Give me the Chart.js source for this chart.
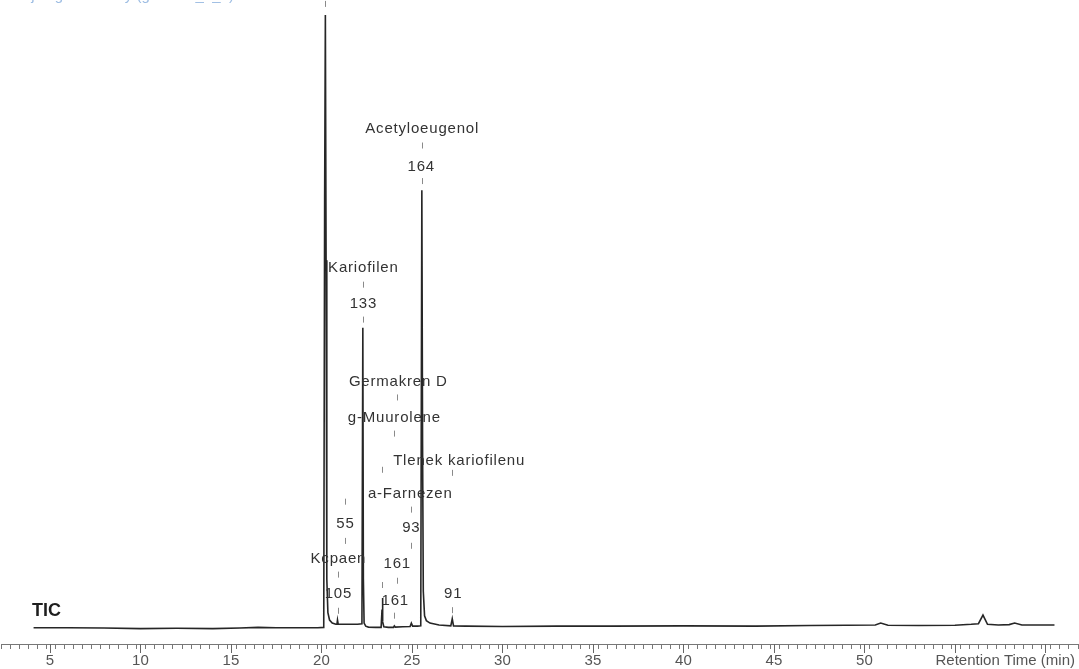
<!DOCTYPE html>
<html>
<head>
<meta charset="utf-8">
<script src="https://cdn.jsdelivr.net/npm/chart.js@4.4.1/dist/chart.umd.min.js"></script>
<style>
  body { margin: 0; background: #fff; }
  #wrap { width: 1079px; height: 669px; position: relative; }
</style>
</head>
<body>
<div id="wrap"><canvas id="tic"></canvas></div>
<script>
// Retention time (min) and TIC intensity (% of the biggest peak)
const retTime = [
  4.1, 6, 8, 10, 12, 14, 15.5, 16.5, 17.5, 19, 19.8, 20.13, 20.18, 20.22, 20.26, 20.3,
  20.36, 20.45, 20.6, 20.8, 20.86, 20.89, 20.93, 21.1, 21.5, 22.0, 22.24, 22.29,
  22.32, 22.36, 22.45, 22.6, 23.0, 23.3, 23.35, 23.37, 23.4, 23.45, 23.7, 23.98, 24.03,
  24.08, 24.5, 24.9, 24.97, 25.04, 25.3, 25.49, 25.55, 25.59, 25.63, 25.7, 25.8,
  26.0, 26.5, 27.15, 27.23, 27.3, 28, 30, 33, 36, 40, 44, 47, 49, 50.6, 50.9, 51.3, 53,
  55, 55.9, 56.3, 56.55, 56.8, 57.4, 58.0, 58.3, 58.7, 60.5
];
const ticIntensity = [
  0.05, 0.05, 0.0, -0.1, -0.05, -0.1, 0.0, 0.1, 0.05, 0.05, 0.05, 0.1, 70, 100, 60, 8,
  2.5, 1.3, 0.8, 0.6, 0.6, 1.3, 0.6, 0.6, 0.6, 0.6, 0.7, 49,
  8, 0.8, 0.3, 0.15, 0.1, 0.1, 3, 4.9, 1, 0.2, 0.1, 0.1, 0.35,
  0.15, 0.2, 0.25, 0.8, 0.3, 0.3, 0.35, 71.4, 30, 6, 2, 1.2,
  0.8, 0.5, 0.35, 1.5, 0.35, 0.3, 0.25, 0.3, 0.3, 0.35, 0.3, 0.4, 0.45, 0.5, 0.8, 0.45, 0.4,
  0.45, 0.6, 0.7, 2.1, 0.6, 0.5, 0.55, 0.8, 0.5, 0.5
];

// x axis
const xMin = 2.3;
const xMax = 61.8;
const majorTicks = [5, 10, 15, 20, 25, 30, 35, 40, 45, 50, 55, 60];
const tickLabels = ['5', '10', '15', '20', '25', '30', '35', '40', '45', '50'];
const axisTitle = 'Retention Time (min)';
const traceName = 'TIC';
const runTitle = 'Olejek gozdzikowy (gozdziki_2_1)';

// Peak labels: text, retention time, level (%)
const labelTexts = ['Acetyloeugenol', '164', 'Kariofilen', '133', 'Germakren D', 'g-Muurolene',
  'Tlenek kariofilenu', 'a-Farnezen', '55', '93', 'Kcpaen', '161', '105', '161', '91'];
const labelTimes = [25.57, 25.52, 22.32, 22.32, 24.25, 24.03, 27.61, 24.91, 21.33, 24.97,
  20.94, 24.19, 20.94, 24.08, 27.28];
const labelLevels = [81.4, 75.3, 58.8, 52.9, 40.2, 34.3, 27.3, 21.9, 17.0, 16.3, 11.3, 10.5,
  5.6, 4.4, 5.6];

// Short dashed markers: retention time and top level (%)
const markTimes = [20.22, 25.55, 25.55, 22.29, 22.29, 24.19, 24.19, 24.03, 24.03, 23.37, 23.37,
  27.23, 27.23, 21.33, 21.33, 24.97, 24.97, 20.94, 20.94];
const markLevels = [102.3, 79.2, 73.4, 56.5, 50.8, 38.1, 8.2, 32.2, 2.5, 26.3, 7.5,
  25.8, 3.4, 21.1, 14.7, 19.8, 13.9, 9.2, 3.3];

const points = retTime.map((t, i) => ({ x: t, y: ticIntensity[i] }));

/**
 * Draws tick numbers, labels, markers, major ticks and the extra texts
 */
const decorations = {
  id: 'decorations',
  afterDraw(chart) {
    const ctx = chart.ctx;
    const xs = chart.scales.x;
    const ys = chart.scales.y;
    const area = chart.chartArea;

    ctx.save();

    // longer major ticks
    ctx.strokeStyle = '#666';
    ctx.lineWidth = 1;
    majorTicks.forEach(v => {
      const px = Math.round(xs.getPixelForValue(v)) + 0.5;
      ctx.beginPath();
      ctx.moveTo(px, area.bottom);
      ctx.lineTo(px, area.bottom + 9);
      ctx.stroke();
    });

    // tick numbers
    ctx.fillStyle = '#555';
    ctx.font = '15px "Liberation Sans", Arial, sans-serif';
    ctx.textAlign = 'center';
    ctx.textBaseline = 'middle';
    tickLabels.forEach(lbl => {
      ctx.fillText(lbl, xs.getPixelForValue(Number(lbl)), area.bottom + 17);
    });

    // axis title, sits where the 55 and 60 labels would be
    ctx.textAlign = 'right';
    ctx.fillText(axisTitle, chart.width - 4, area.bottom + 17);

    // dashed markers
    ctx.strokeStyle = '#8a8a8a';
    markTimes.forEach((t, i) => {
      const px = Math.round(xs.getPixelForValue(t)) + 0.5;
      const py = ys.getPixelForValue(markLevels[i]);
      ctx.beginPath();
      ctx.moveTo(px, py);
      ctx.lineTo(px, py + 6);
      ctx.stroke();
    });

    // peak labels
    ctx.fillStyle = '#333';
    ctx.letterSpacing = '0.8px';
    ctx.textAlign = 'center';
    labelTexts.forEach((txt, i) => {
      ctx.fillText(txt, xs.getPixelForValue(labelTimes[i]), ys.getPixelForValue(labelLevels[i]));
    });
    ctx.letterSpacing = '0px';

    // trace name
    ctx.fillStyle = '#1e1e1e';
    ctx.font = 'bold 18px "Liberation Sans", Arial, sans-serif';
    ctx.textAlign = 'left';
    ctx.fillText(traceName, 32, ys.getPixelForValue(2.8));

    // run title, cut off at the top edge
    ctx.fillStyle = '#9dbde3';
    ctx.font = '15px "Liberation Sans", Arial, sans-serif';
    ctx.textBaseline = 'alphabetic';
    ctx.fillText(runTitle, 8, 0);

    ctx.restore();
  }
};

function createChromatogram() {
  const ctx = document.getElementById('tic').getContext('2d');

  new Chart(ctx, {
    type: 'line',
    data: {
      datasets: [{
        label: traceName,
        data: points,
        borderColor: '#262626',
        borderWidth: 1.6,
        pointRadius: 0,
        tension: 0,
        fill: false
      }]
    },
    options: {
      responsive: true,
      maintainAspectRatio: false,
      animation: false,
      layout: { padding: 0 },
      plugins: {
        legend: { display: false },
        tooltip: { enabled: false }
      },
      scales: {
        x: {
          type: 'linear',
          min: xMin,
          max: xMax,
          border: { color: '#777', width: 1 },
          grid: {
            drawOnChartArea: false,
            tickLength: 5,
            color: '#777'
          },
          ticks: {
            stepSize: 0.5,
            autoSkip: false,
            maxRotation: 0,
            includeBounds: false,
            padding: 1,
            font: { family: '"Liberation Sans", Arial, sans-serif', size: 15 },
            // numbers are written by the plugin, the axis keeps their room
            callback: function() {
              return '';
            }
          }
        },
        y: {
          display: false,
          min: -2.61,
          max: 102.45
        }
      }
    },
    plugins: [decorations]
  });
}

createChromatogram();
</script>
</body>
</html>
